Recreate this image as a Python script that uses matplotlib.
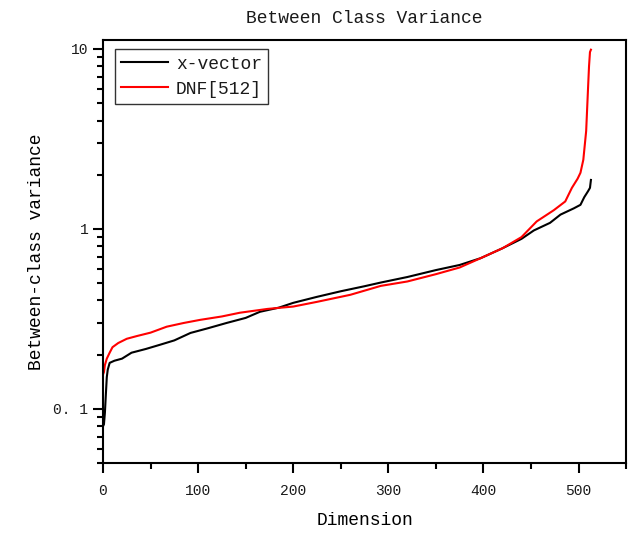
import numpy as np
import matplotlib
matplotlib.use("Agg")
import matplotlib.pyplot as plt
from matplotlib.ticker import LogLocator, FixedLocator, MultipleLocator, NullFormatter

# values
xvec_dim = [0, 1, 2, 3, 4, 5, 7, 12, 20, 30, 45, 60, 75, 92, 110, 130, 150, 165, 185, 200,
            225, 250, 275, 292, 320, 350, 375, 397, 420, 440, 453, 470, 481, 495, 502, 506, 510, 512, 513]
xvec_val = [0.08, 0.082, 0.095, 0.12, 0.15, 0.165, 0.18, 0.185, 0.19, 0.205, 0.215, 0.227, 0.24, 0.264,
            0.28, 0.30, 0.32, 0.346, 0.365, 0.388, 0.419, 0.45, 0.48, 0.503, 0.54, 0.59, 0.63, 0.687,
            0.78, 0.88, 0.98, 1.08, 1.2, 1.3, 1.36, 1.5, 1.62, 1.69, 1.87]

dnf_dim = [0, 1, 2, 4, 7, 10, 16, 25, 36, 50, 67, 85, 102, 125, 144, 173, 200, 225, 260, 292,
           320, 350, 375, 397, 420, 440, 456, 474, 486, 493, 499, 502, 505, 508, 510, 511, 512, 513]
dnf_val = [0.155, 0.16, 0.175, 0.19, 0.205, 0.22, 0.232, 0.245, 0.254, 0.265, 0.286, 0.3, 0.312,
           0.326, 0.342, 0.359, 0.37, 0.393, 0.43, 0.482, 0.51, 0.56, 0.61, 0.687, 0.78, 0.9,
           1.1, 1.27, 1.42, 1.69, 1.9, 2.05, 2.42, 3.5, 6.1, 8.0, 9.6, 9.9]

plt.rcParams['font.family'] = ['Liberation Mono', 'DejaVu Sans']
plt.rcParams['text.color'] = '#1a1a1a'

fig = plt.figure(figsize=(6.28, 5.34), dpi=100)
ax = fig.add_axes([0.164, 0.133, 0.833, 0.792])

ax.plot(xvec_dim, xvec_val, color='black', lw=1.5, label='x-vector')
ax.plot(dnf_dim, dnf_val, color='red', lw=1.5, label='DNF[512]')

ax.set_yscale('log')
ax.set_xlim(0, 550)
ax.set_ylim(0.05, 11.2)

ax.xaxis.set_major_locator(FixedLocator([0, 100, 200, 300, 400, 500]))
ax.xaxis.set_minor_locator(MultipleLocator(50))
ax.yaxis.set_major_locator(FixedLocator([0.1, 1, 10]))
ax.yaxis.set_minor_locator(LogLocator(base=10, subs=np.arange(2, 10)))
ax.yaxis.set_minor_formatter(NullFormatter())
ax.set_yticklabels(['0. 1', '1', '10'])

for s in ax.spines.values():
    s.set_linewidth(1.5)
ax.tick_params(which='major', direction='out', length=7, width=1.5, labelsize=10.5, colors='black',
               labelcolor='#1a1a1a')
ax.tick_params(axis='x', which='major', pad=8)
ax.tick_params(which='minor', direction='out', length=4, width=1.5, colors='black')

ax.set_title('Between Class Variance', fontsize=13, pad=12)
ax.set_xlabel('Dimension', fontsize=13, labelpad=10)
ax.set_ylabel('Between-class variance', fontsize=13, labelpad=6)

leg = ax.legend(loc='upper left', fontsize=13, frameon=True, fancybox=False, framealpha=1,
                edgecolor='#333333', handlelength=2.6, borderpad=0.35, labelspacing=0.45,
                handletextpad=0.45, borderaxespad=0, bbox_to_anchor=(0.022, 0.978))
leg.get_frame().set_linewidth(1.0)

fig.savefig('out.png', dpi=100)
